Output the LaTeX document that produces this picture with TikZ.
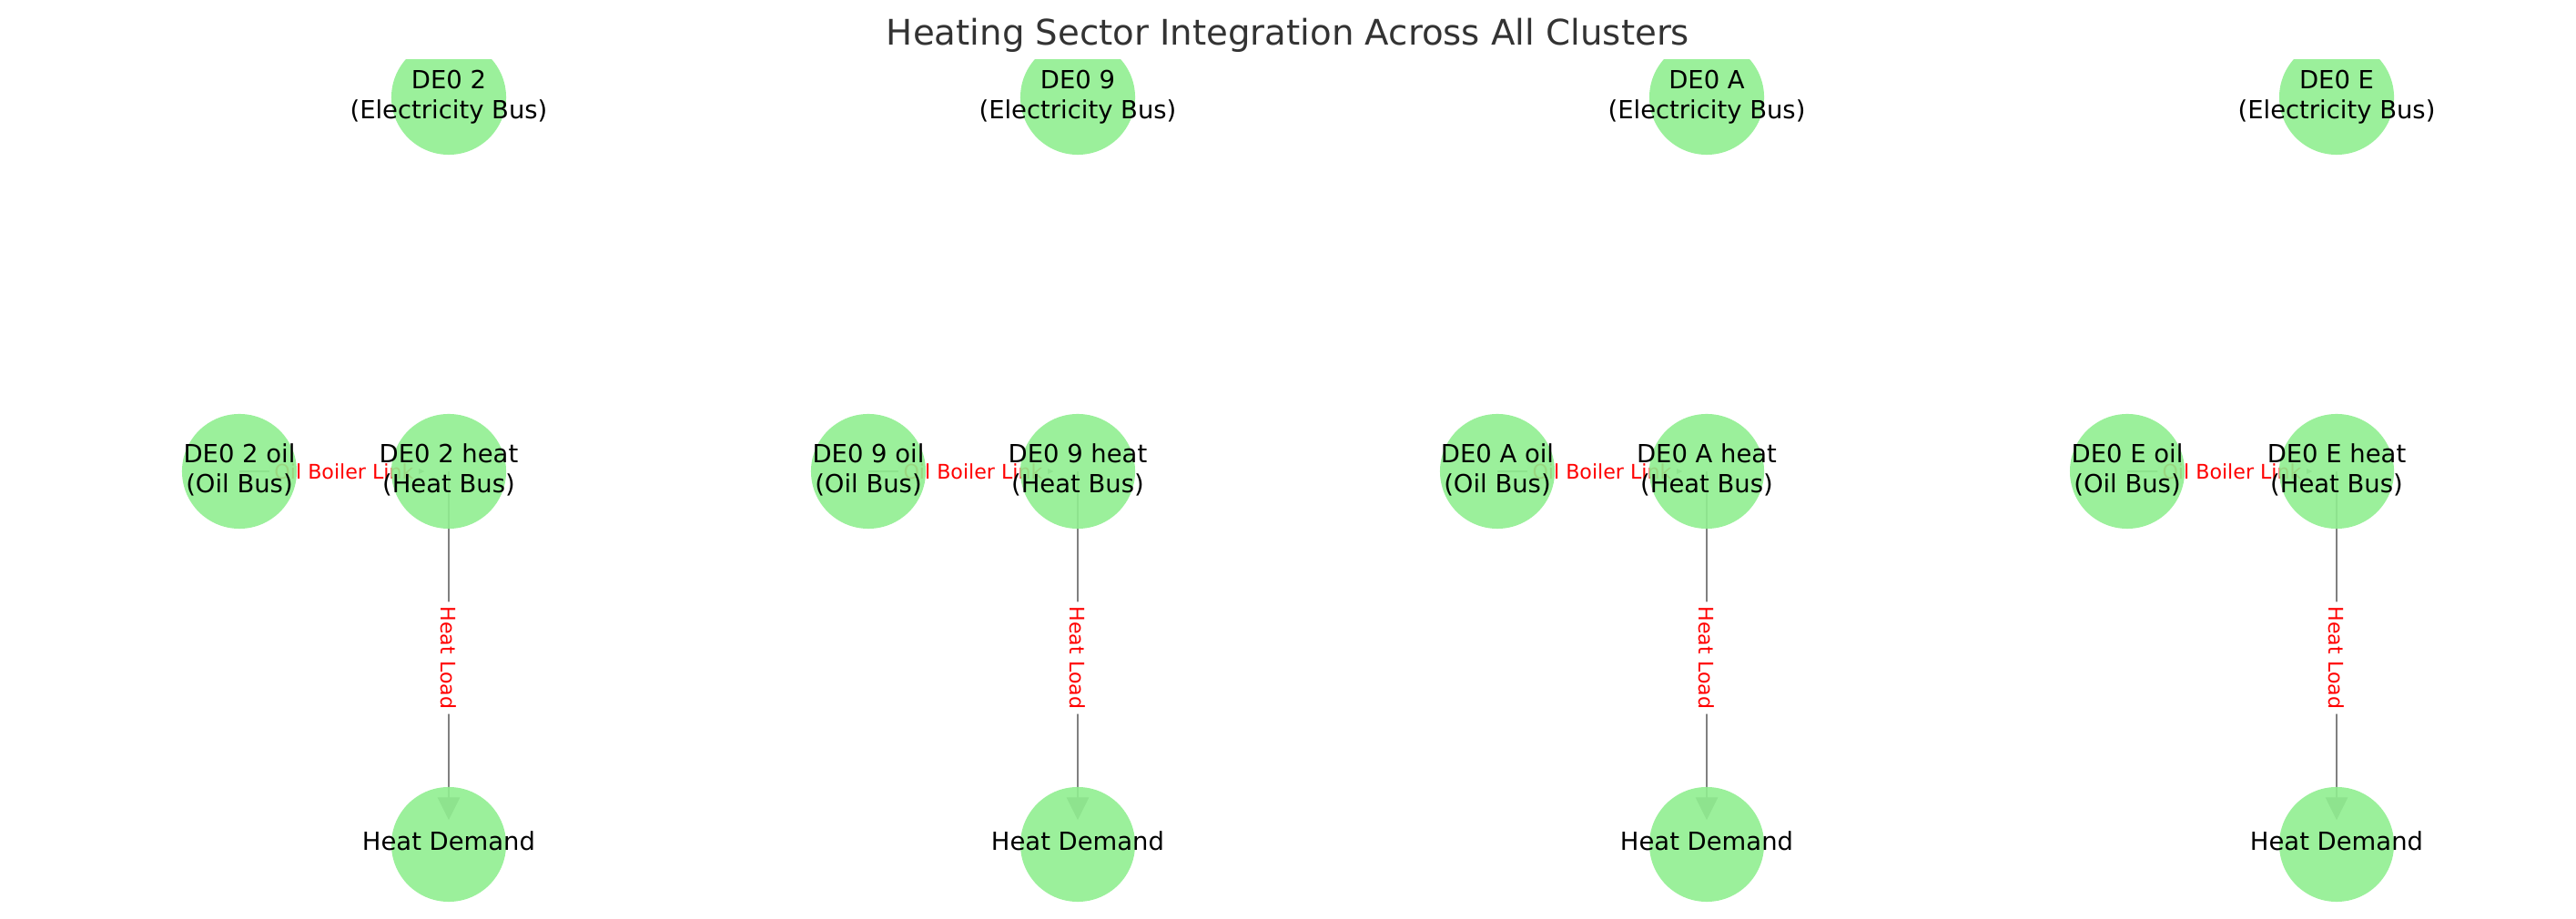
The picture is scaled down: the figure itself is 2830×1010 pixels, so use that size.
\documentclass[tikz,border=0pt]{standalone}
\usepackage{fontspec}
\setmainfont{DejaVu Sans}
\usetikzlibrary{arrows.meta,calc}
\pgfdeclarelayer{edges}
\pgfsetlayers{edges,main}
\definecolor{busgreen}{HTML}{90EE90}
\definecolor{linkgray}{HTML}{808080}
\definecolor{titlegray}{HTML}{333333}
\newcommand{\buslabel}[1]{\makebox[0pt]{\begin{tabular}{@{}c@{}}#1\end{tabular}}}

\tikzset{
  bus/.style={circle, fill=busgreen, fill opacity=0.9, text opacity=1,
    minimum size=1.26cm, inner sep=0pt, font=\fontsize{7.8}{9.36}\selectfont},
  link/.style={draw=linkgray, line width=0.8pt,
    -{Triangle[length=0.25cm, width=0.24cm]}, shorten >=-0.37cm},
  linklabel/.style={fill=white, text=red, rounded corners=2pt, inner sep=1.5pt,
    font=\fontsize{6.3}{7.6}\selectfont}
}

\begin{document}
\begin{tikzpicture}[x=0.01cm, y=-0.01cm]
    \useasboundingbox (0, 0) rectangle (2830, 1010);
    \node[anchor=base, text=titlegray, font=\fontsize{11}{13}\selectfont] (heading) at (1415, 50) {Heating Sector Integration Across All Clusters};

    \begin{scope}
        \clip (0, 66) rectangle (2830, 1010);
        \foreach \c/\x in {2/493, 9/1184, A/1875, E/2567} {
            % Buses of cluster \c
            \node[bus] (elec\c) at (\x, 107) {\buslabel{DE0 \c\\(Electricity Bus)}};
            \node[bus] (oil\c) at (\x-230, 518) {\buslabel{DE0 \c{} oil\\(Oil Bus)}};
            \node[bus] (heat\c) at (\x, 518) {\buslabel{DE0 \c{} heat\\(Heat Bus)}};
            \node[bus] (demand\c) at (\x, 928) {\buslabel{Heat Demand}};

            % Links, behind the buses
            \begin{pgfonlayer}{edges}
                \draw[link] (oil\c.center) -- (heat\c);
                \draw[link] (heat\c.center) -- (demand\c);
                \node[linklabel] (boiler\c) at ($(oil\c)!0.5!(heat\c)$) {Oil Boiler Link};
                \node[linklabel, rotate=-90] (load\c) at ($(heat\c)!0.5!(demand\c)$) {Heat Load};
            \end{pgfonlayer}
        }
    \end{scope}
\end{tikzpicture}
\end{document}
